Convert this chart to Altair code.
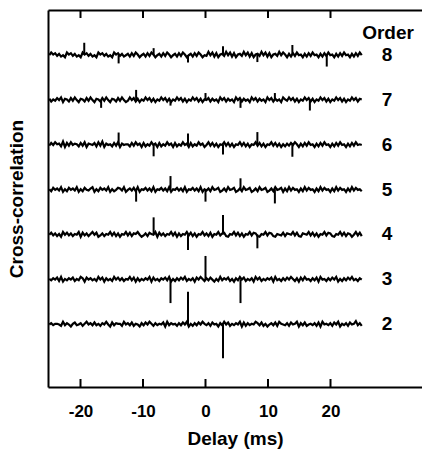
import altair as alt
import pandas as pd

# ---- data ----
orders = [2, 3, 4, 5, 6, 7, 8]
tick_values = [-20, -10, 0, 10, 20]

# spikes: delay (ms), order, height relative to trace baseline
spike_delay = [-2.8, 2.8,
               0.0, -5.6, 5.6,
               -8.3, 2.8, -2.8, 8.3,
               -5.6, 5.6, -11.1, 0.0, 11.1,
               -13.9, -2.8, 8.3, -8.3, 2.8, 13.9,
               -11.1, 0.0, 11.1, -16.7, -5.6, 5.6, 16.7,
               -19.4, -8.3, 2.8, 13.9, -13.9, -2.8, 8.3, 19.4]
spike_order = [2, 2,
               3, 3, 3,
               4, 4, 4, 4,
               5, 5, 5, 5, 5,
               6, 6, 6, 6, 6, 6,
               7, 7, 7, 7, 7, 7, 7,
               8, 8, 8, 8, 8, 8, 8, 8]
spike_height = [0.72, -0.76,
                0.52, -0.53, -0.53,
                0.38, 0.43, -0.35, -0.31,
                0.30, 0.25, -0.27, -0.27, -0.31,
                0.27, 0.25, 0.28, -0.26, -0.22, -0.27,
                0.22, 0.15, 0.15, -0.18, -0.13, -0.18, -0.24,
                0.27, 0.15, 0.19, 0.22, -0.19, -0.17, -0.16, -0.26]

# baseline noise of each trace (digits, 4.5 = baseline), estimated
noise_2 = ("4635542836415734625846373526484173655284"
           "6372541637485263547183645263748152637485"
           "3627451638472536481726354863725146372854"
           "3627458163724536271845362748153627459362")
noise_3 = ("5364728153647253861746352847163528473625"
           "4837162536481735264738152637482536174852"
           "6374152836472516384725361847253647183526"
           "3748526173845263718452637481526374835264")
noise_4 = ("4736251847362548173625847136254837261548"
           "3726584136275481736254837162548372615483"
           "6271548367215483726154837621548376215437"
           "2654837216548372615483762154837265148372")
noise_5 = ("5274638152746381527436815274638152476381"
           "4637281547362815473628154736281547362815"
           "3628457136284571362845713628457136284571"
           "6283745162837451628374516283745162837452")
noise_6 = ("3748562917384652738165472839164527381645"
           "5273846172538461725384617253846172538461"
           "4837261548372615483726154837261548372615"
           "2637485162738451627384516273845162738454")
noise_7 = ("6253748165273841652738416527384165273841"
           "3847261538472615384726153847261538472615"
           "4726351847263518472635184726351847263518"
           "5384726153847261538472615384726153847265")
noise_8 = ("4857362418573624185736241857362418573624"
           "6273851462738514627385146273851462738514"
           "3948271563948271563948271563948271563948"
           "5162738451627384516273845162738451627384")
noise_strings = [noise_2, noise_3, noise_4, noise_5, noise_6, noise_7, noise_8]

# ---- build tables ----
rows = []
for order, s in zip(orders, noise_strings):
    n = len(s)
    for i, c in enumerate(s):
        rows.append({"order": order,
                     "delay": -25 + 50 * i / (n - 1),
                     "value": order + (int(c) - 4.5) * 0.015})
trace_df = pd.DataFrame(rows)

spike_df = pd.DataFrame({"delay": spike_delay, "base": spike_order,
                         "tip": [o + h for o, h in zip(spike_order, spike_height)]})
tick_df = pd.DataFrame({"t": tick_values})
label_df = pd.DataFrame({"order": orders, "label": [str(o) for o in orders]})

FONT = "Liberation Sans"
WEIGHT = "bold"
xscale = alt.Scale(domain=[-25.2, 34.64], nice=False, zero=False)
yscale = alt.Scale(domain=[0.6, 9.0], nice=False, zero=False)

yaxis = alt.Axis(title="Cross-correlation", labels=False, ticks=False, grid=False,
                 domain=True, domainColor="black", domainWidth=2,
                 titleFont=FONT, titleFontSize=19, titleFontWeight=WEIGHT,
                 titleColor="black", titlePadding=22)

bottom_axis = alt.Axis(title="Delay (ms)", values=tick_values, ticks=False, grid=False,
                       domain=True, domainColor="black", domainWidth=2,
                       labelExpr="datum.value < 0 ? '-' + abs(datum.value) : '' + datum.value",
                       labelFont=FONT, labelFontSize=17, labelFontWeight=WEIGHT,
                       labelColor="black", labelPadding=16,
                       titleFont=FONT, titleFontSize=19, titleFontWeight=WEIGHT,
                       titleColor="black", titlePadding=10)

top_axis = alt.Axis(orient="top", title=None, labels=False, ticks=False, grid=False,
                    domain=True, domainColor="black", domainWidth=2)

lines = alt.Chart(trace_df).mark_line(color="black", strokeWidth=2.2,
                                      strokeJoin="miter").encode(
    x=alt.X("delay:Q", scale=xscale, axis=bottom_axis),
    y=alt.Y("value:Q", scale=yscale, axis=yaxis),
    detail="order:N",
)

spikes = alt.Chart(spike_df).mark_rule(color="black", strokeWidth=2).encode(
    x=alt.X("delay:Q", scale=xscale, axis=None),
    y=alt.Y("base:Q", scale=yscale, axis=yaxis),
    y2="tip:Q",
)

top_ticks = alt.Chart(tick_df).mark_rule(color="black", strokeWidth=2).encode(
    x=alt.X("t:Q", scale=xscale, axis=top_axis),
    y=alt.value(0), y2=alt.value(8),
)

bottom_ticks = alt.Chart(tick_df).mark_rule(color="black", strokeWidth=2).encode(
    x=alt.X("t:Q", scale=xscale, axis=None),
    y=alt.value(369), y2=alt.value(377),
)

labels = alt.Chart(label_df).mark_text(font=FONT, fontSize=19, fontWeight=WEIGHT,
                                       color="black", align="center",
                                       baseline="middle").encode(
    x=alt.value(339),
    y=alt.Y("order:Q", scale=yscale, axis=yaxis),
    text="label:N",
)

header = alt.Chart(pd.DataFrame({"label": ["Order"]})).mark_text(
    font=FONT, fontSize=19, fontWeight=WEIGHT, color="black",
    align="center", baseline="middle").encode(
    x=alt.value(340), y=alt.value(23), text="label:N",
)

chart = alt.layer(lines, spikes, top_ticks, bottom_ticks, labels, header).resolve_axis(
    x="independent"
).properties(
    width=374, height=377,
    autosize=alt.AutoSizeParams(type="none"),
    padding={"left": 48, "top": 10, "right": 0, "bottom": 69},
    background="white",
).configure_view(stroke=None)

chart.save("out.html", embed_options={"renderer": "svg", "actions": False})
